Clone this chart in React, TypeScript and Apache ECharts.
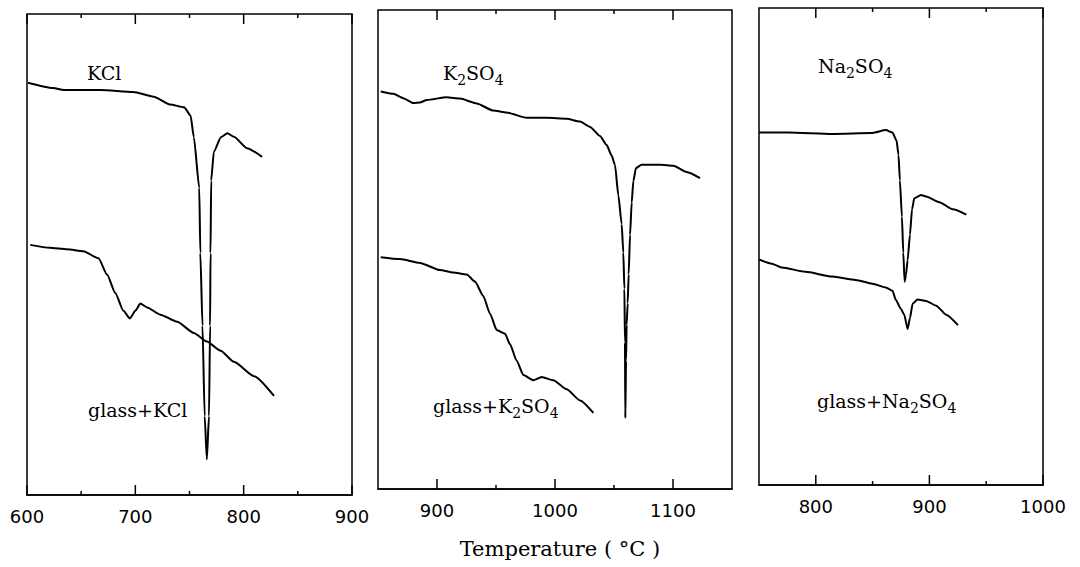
import React, { useEffect, useRef } from "react";
import * as echarts from "echarts";

// ---- Panel 1: KCl ----
const kclT = [601, 624, 634, 668, 698, 717, 732, 745, 751, 754, 759, 760, 762, 764, 766, 768, 769, 769.4, 770, 772.5, 779, 785, 791, 803, 817];
const kclV = [85.7, 84.6, 84.2, 84.2, 83.8, 82.8, 81.2, 80.6, 78.9, 74.4, 63.9, 50.3, 35.2, 16.4, 7.4, 16.4, 35.2, 50.3, 65.4, 71.4, 74.4, 75.2, 74.5, 72.1, 70.3];
const gkclT = [603, 621, 637, 652, 666, 674, 681.5, 689, 695, 700, 704.6, 711, 723, 738.6, 754, 766, 778.7, 791, 809.6, 828];
const gkclV = [52.0, 51.4, 51.1, 50.7, 49.2, 45.8, 42.0, 38.3, 36.7, 38.3, 39.8, 39.0, 37.5, 36.0, 33.7, 31.9, 30.0, 27.7, 24.7, 20.6];

// ---- Panel 2: K2SO4 ----
const k2soT = [852.3, 863, 871.4, 879.9, 885.6, 891.3, 908.2, 919.5, 933.6, 947.7, 959, 976, 993, 1009.9, 1021.2, 1029.7, 1038.1, 1043.8, 1048, 1050.8, 1053.7, 1056.5, 1057.9, 1058.8, 1059.3, 1059.6, 1060.2, 1060.7, 1061.6, 1062.4, 1063.6, 1065, 1066.4, 1068.6, 1073.4, 1089, 1100.3, 1111.6, 1122.9];
const k2soV = [83.0, 82.5, 81.6, 80.6, 80.7, 81.2, 81.8, 81.5, 80.5, 79.0, 78.6, 77.5, 77.5, 77.3, 76.7, 75.6, 73.7, 71.8, 69.6, 67.7, 61.3, 55.3, 49.3, 41.8, 30.6, 14.8, 26.8, 34.3, 38.8, 44.8, 53.1, 59.8, 64.3, 67.0, 67.7, 67.7, 67.5, 66.2, 64.9];
const gk2soT = [852.3, 868.6, 885.6, 902.5, 913.8, 925.2, 932.2, 939.2, 944.9, 950.6, 957.6, 961.9, 967.5, 973.2, 981.6, 988.7, 998.6, 1009.9, 1021.2, 1032.5];
const gk2soV = [48.4, 48.0, 47.2, 45.7, 45.2, 44.8, 43.3, 40.3, 36.6, 33.2, 32.4, 30.2, 26.8, 23.8, 22.7, 23.4, 22.7, 20.8, 18.5, 15.9];

// ---- Panel 3: Na2SO4 ----
const na2soT = [750, 776.1, 814.4, 849.8, 861.7, 867.5, 871.1, 872.8, 874.0, 875.8, 877.0, 878.2, 879.4, 880.8, 882.9, 884.7, 886.7, 892.6, 897.1, 908.8, 920.6, 932.5];
const na2soV = [73.9, 73.9, 73.6, 73.8, 74.4, 73.9, 72.2, 69.2, 63.9, 56.3, 48.7, 42.6, 44.1, 47.1, 52.5, 57.8, 60.1, 60.8, 60.5, 59.3, 57.8, 56.7];
const gna2soT = [750, 761.3, 770.2, 790.9, 814.4, 835.1, 849.8, 861.7, 867.5, 870.5, 874.9, 877.9, 880.8, 882.9, 885.2, 889.6, 897.1, 905.9, 914.8, 925.1];
const gna2soV = [47.3, 46.4, 45.6, 44.7, 43.7, 43.0, 42.2, 41.4, 40.7, 38.8, 36.9, 35.7, 32.7, 35.0, 38.0, 38.9, 38.6, 37.6, 35.7, 33.5];

// ---- Axis ticks ----
const p1Range = [600, 900];
const p1Major = [600, 700, 800, 900];
const p1Minor = [650, 750, 850];
const p2Range = [850, 1150];
const p2Major = [900, 1000, 1100];
const p2Minor = [950, 1050];
const p3Range = [750, 1000];
const p3Major = [800, 900, 1000];
const p3Minor = [850, 950];

const axisTitle = "Temperature ( °C )";

const pairs = (t: number[], v: number[]) => t.map((x, i) => [x, v[i]]);

const LABEL_FONT = "DejaVu Serif";
const MAJOR_LEN = 10;
const MINOR_LEN = 4;

function xAxisFor(gi: number, range: number[], major: number[]) {
  return {
    gridIndex: gi,
    type: "value",
    position: "bottom",
    min: range[0],
    max: range[1],
    splitLine: { show: false },
    axisLine: { show: true, onZero: false, lineStyle: { color: "#000", width: 1.5 } },
    axisTick: { show: false },
    axisLabel: {
      show: true,
      customValues: major,
      margin: 12,
      color: "#000",
      fontFamily: "DejaVu Sans",
      fontSize: 18,
      formatter: (v: number) => String(v),
    },
  };
}

// inward-pointing tick marks on the bottom and top frame edges
function tickSeries(gi: number, major: number[], minor: number[]) {
  return {
    type: "custom",
    xAxisIndex: gi,
    yAxisIndex: gi,
    silent: true,
    clip: false,
    data: [...major.map((v) => [v, MAJOR_LEN]), ...minor.map((v) => [v, MINOR_LEN])],
    renderItem: (_params: any, api: any) => {
      const t = api.value(0);
      const len = api.value(1);
      const b = api.coord([t, 0]);
      const tp = api.coord([t, 100]);
      const st = { stroke: "#000", lineWidth: 1.5 };
      return {
        type: "group",
        children: [
          { type: "line", shape: { x1: b[0], y1: b[1], x2: b[0], y2: b[1] - len }, style: st },
          { type: "line", shape: { x1: tp[0], y1: tp[1], x2: tp[0], y2: tp[1] + len }, style: st },
        ],
      };
    },
  };
}

const rich = {
  n: { fontFamily: LABEL_FONT, fontSize: 19, lineHeight: 24, fill: "#000", color: "#000" },
  s: { fontFamily: LABEL_FONT, fontSize: 14, lineHeight: 15, padding: [14, 0, 0, 0], fill: "#000", color: "#000" },
};

function label(text: string, x: number, y: number) {
  return {
    type: "text",
    x,
    y,
    style: {
      text,
      rich,
      fill: "#000",
      font: `19px "${LABEL_FONT}"`,
      verticalAlign: "middle",
      align: "left",
    },
  };
}

export default function App() {
  const ref = useRef<HTMLDivElement>(null);
  useEffect(() => {
    if (!ref.current) return;
    const chart = echarts.init(ref.current, null, { renderer: "svg" });
    const gridBoxes = [
      { left: 27, top: 14, width: 325, height: 481 },
      { left: 378, top: 10, width: 354, height: 479 },
      { left: 759, top: 8, width: 284, height: 477 },
    ];
    const grids = gridBoxes.map((g) => ({ ...g, show: true, borderColor: "#000", borderWidth: 1.5, backgroundColor: "transparent", containLabel: false }));

    const xAxis = [
      xAxisFor(0, p1Range, p1Major),
      xAxisFor(1, p2Range, p2Major),
      xAxisFor(2, p3Range, p3Major),
    ];
    const yAxis = [0, 1, 2].map((gi) => ({
      gridIndex: gi,
      type: "value",
      min: 0,
      max: 100,
      show: false,
      splitLine: { show: false },
    }));
    const line = (name: string, data: number[][], gi: number) => ({
      name,
      type: "line",
      xAxisIndex: gi,
      yAxisIndex: gi,
      data,
      showSymbol: false,
      symbol: "none",
      smooth: 0.2,
      smoothMonotone: "x",
      lineStyle: { color: "#000", width: 2 },
      clip: true,
    });

    chart.setOption({
      animation: false,
      backgroundColor: "#fff",
      grid: grids,
      xAxis,
      yAxis,
      series: [
        line("KCl", pairs(kclT, kclV), 0),
        line("glass+KCl", pairs(gkclT, gkclV), 0),
        line("K2SO4", pairs(k2soT, k2soV), 1),
        line("glass+K2SO4", pairs(gk2soT, gk2soV), 1),
        line("Na2SO4", pairs(na2soT, na2soV), 2),
        line("glass+Na2SO4", pairs(gna2soT, gna2soV), 2),
        tickSeries(0, p1Major, p1Minor),
        tickSeries(1, p2Major, p2Minor),
        tickSeries(2, p3Major, p3Minor),
      ],
      graphic: [
        label("{n|KCl}", 87, 73),
        label("{n|glass+KCl}", 88, 410),
        label("{n|K}{s|2}{n|SO}{s|4}", 443, 73),
        label("{n|glass+K}{s|2}{n|SO}{s|4}", 433, 406),
        label("{n|Na}{s|2}{n|SO}{s|4}", 818, 66),
        label("{n|glass+Na}{s|2}{n|SO}{s|4}", 817, 401),
        {
          type: "text",
          x: 560,
          y: 549,
          style: {
            text: axisTitle,
            fill: "#000",
            font: `21px "${LABEL_FONT}"`,
            align: "center",
            verticalAlign: "middle",
          },
        },
      ],
    });
    return () => chart.dispose();
  }, []);
  return <div ref={ref} style={{ width: 1080, height: 567, position: "absolute", left: 0, top: 0 }} />;
}
